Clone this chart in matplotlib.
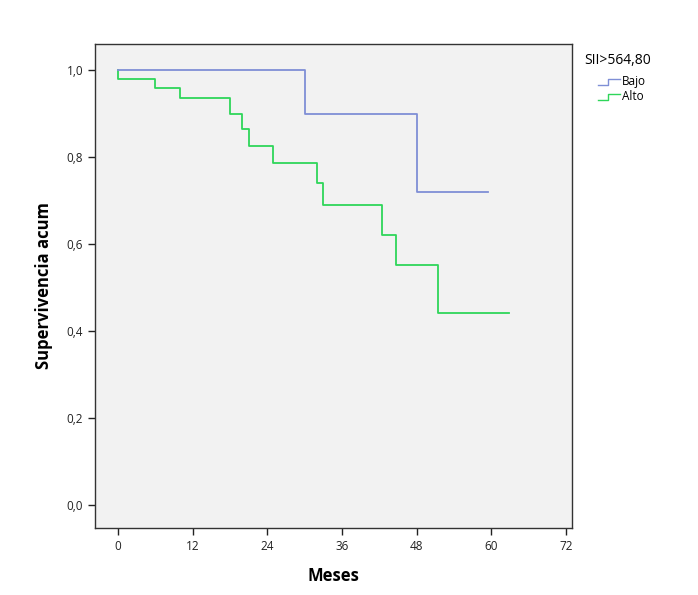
import matplotlib
matplotlib.use("Agg")
import matplotlib.pyplot as plt
from matplotlib.lines import Line2D

# Survival steps (months, cumulative survival)
bajo_t = [0, 30, 48, 59.5]
bajo_s = [1.0, 0.90, 0.72, 0.72]

alto_t = [0, 0, 6, 10, 18, 20, 21, 25, 32, 33, 42.5, 44.7, 51.5, 62.8]
alto_s = [1.0, 0.98, 0.96, 0.936, 0.90, 0.864, 0.825, 0.786, 0.74, 0.69, 0.621, 0.552, 0.442, 0.442]

x_ticks = [0, 12, 24, 36, 48, 60, 72]
y_ticks = [0.0, 0.2, 0.4, 0.6, 0.8, 1.0]
y_labels = ["0,0", "0,2", "0,4", "0,6", "0,8", "1,0"]

BLUE = "#7f8fd6"
GREEN = "#2fd65a"

plt.rcParams['font.family'] = ['Open Sans', 'DejaVu Sans']

fig = plt.figure(figsize=(6.98, 5.95), dpi=100)
ax = fig.add_axes([0.136, 0.1126, 0.6835, 0.8134])
ax.set_facecolor("#f2f2f2")

ax.step(alto_t, alto_s, where="post", color=GREEN, lw=1.3)
ax.step(bajo_t, bajo_s, where="post", color=BLUE, lw=1.3)

ax.set_xlim(-3.7, 73.0)
ax.set_ylim(-0.053, 1.06)
ax.set_xticks(x_ticks)
ax.set_yticks(y_ticks)
ax.set_yticklabels(y_labels)
ax.tick_params(direction="out", length=5, width=1, labelsize=8.5, colors="#222222")
for s in ax.spines.values():
    s.set_color("#333333")
    s.set_linewidth(1)

ax.set_xlabel("Meses", fontsize=12, fontweight="bold", labelpad=10)
ax.set_ylabel("Supervivencia acum", fontsize=12, fontweight="bold", labelpad=10)

# legend drawn by hand to mimic the step icons
fig.text(584 / 698, 1 - 60 / 595, "SII>564,80", fontsize=10, va="center", ha="left")
for i, (lab, col) in enumerate([("Bajo", BLUE), ("Alto", GREEN)]):
    yc = 1 - (82 + 15 * i) / 595
    x0, x1, x2 = 598 / 698, 608 / 698, 620 / 698
    y0, y1 = yc - 3 / 595, yc + 3 / 595
    fig.add_artist(Line2D([x0, x1, x1, x2], [y0, y0, y1, y1], color=col, lw=1,
                          transform=fig.transFigure))
    fig.text(622 / 698, yc, lab, fontsize=8.5, va="center", ha="left")

fig.savefig("out.png", dpi=100)
